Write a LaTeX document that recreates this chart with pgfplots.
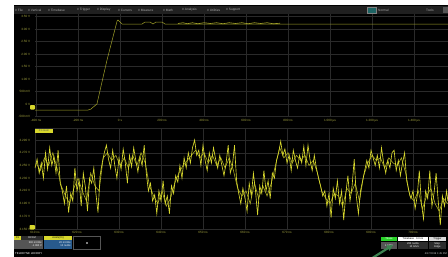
\documentclass[border=0pt]{standalone}
\usepackage{pgfplots}
\pgfplotsset{compat=1.18}
\usetikzlibrary{arrows.meta}
\usepackage{fontspec}
\setmainfont{Liberation Sans}
\definecolor{trace}{RGB}{215,215,45}
\definecolor{trace2}{RGB}{170,170,35}
\definecolor{tracedim}{RGB}{160,160,40}
\definecolor{gridc}{RGB}{42,42,42}
\definecolor{lbl}{RGB}{165,165,65}
\definecolor{menubg}{RGB}{32,32,32}
\definecolor{menutxt}{RGB}{170,170,170}
\definecolor{boxblue}{RGB}{40,90,140}
\definecolor{boxgray}{RGB}{85,85,85}
\definecolor{boxdark}{RGB}{45,45,45}
\definecolor{okgreen}{RGB}{40,210,40}
\definecolor{arrowgreen}{RGB}{60,130,80}
\definecolor{teal}{RGB}{30,100,100}

\pgfplotstableread{
t v
-405 -0.24
-152 -0.24
-140 -0.21
-133 -0.16
-110 0.00
-62 1.76
-14 3.32
-10 3.36
10 3.20
105 3.20
119 3.28
143 3.28
157 3.20
171 3.28
200 3.28
214 3.20
1562 3.20
}\toptrace

\pgfplotstableread{
t v
276 3.22
300 3.25
320 3.21
345 3.25
370 3.21
400 3.25
430 3.22
460 3.25
490 3.21
520 3.25
550 3.22
580 3.25
610 3.21
640 3.25
670 3.22
700 3.25
730 3.21
762 3.23
}\topdense

\pgfplotstableread{
t v
0 48
0.5 55
1 44
1.5 52
2 40
2.5 60
3 47
3.5 64
4 50
4.5 57
5 44
5.5 62
6 36
6.5 30
7 20
7.5 34
8 13
8.5 28
9 22
9.5 48
10 30
10.5 38
11 18
11.5 44
12 33
12.5 14
13 40
13.5 36
14 48
14.5 28
15 13
15.5 42
16 52
16.5 60
17 66
17.5 55
18 48
18.5 62
19 50
19.5 40
20 56
20.5 47
21 63
21.5 52
22 36
22.5 58
23 49
23.5 64
24 54
24.5 45
25 57
25.5 50
26 66
26.5 44
27 30
27.5 36
28 22
28.5 27
29 12
29.5 30
30 22
30.5 38
31 20
31.5 26
32 12
32.5 34
33 28
33.5 42
34 37
34.5 50
35 40
35.5 56
36 48
36.5 60
37 52
37.5 64
38 70
38.5 58
39 62
39.5 50
40 66
40.5 54
41 46
41.5 60
42 52
42.5 64
43 55
43.5 48
44 58
44.5 50
45 42
45.5 52
46 66
46.5 44
47 50
47.5 66
48 38
48.5 28
49 20
49.5 32
50 24
50.5 14
51 36
51.5 26
52 44
52.5 30
53 11
53.5 34
54 28
54.5 46
55 30
55.5 38
56 24
56.5 44
57 40
57.5 54
58 60
58.5 69
59 58
59.5 63
60 52
60.5 58
61 46
61.5 62
62 54
62.5 48
63 58
63.5 52
64 65
64.5 50
65 66
65.5 54
66 46
66.5 58
67 48
67.5 40
68 34
68.5 26
69 30
69.5 18
70 28
70.5 9
71 32
71.5 24
72 38
72.5 20
73 30
73.5 7
74 28
74.5 42
75 22
75.5 34
76 55
76.5 26
77 12
77.5 30
78 38
78.5 46
79 54
79.5 48
80 62
80.5 56
81 50
81.5 58
82 48
82.5 64
83 52
83.5 44
84 54
84.5 48
85 60
85.5 62
86 46
86.5 54
87 42
87.5 52
88 60
88.5 38
89 30
89.5 24
90 30
90.5 16
91 26
91.5 46
92 20
92.5 8
93 30
93.5 24
94 46
94.5 18
95 28
95.5 44
96 22
96.5 3
97 26
97.5 18
98 30
98.3 22
}\bottomtrace

\pgfplotstableread{
t v
0.25 52
1.25 46
2.25 56
3.25 50
4.25 60
5.25 48
6.25 34
7.25 26
8.25 20
9.25 32
10.25 40
11.25 30
12.25 22
13.25 44
14.25 34
15.25 30
16.25 56
17.25 60
18.25 54
19.25 58
20.25 50
21.25 56
22.25 48
23.25 58
24.25 50
25.25 60
26.25 52
27.25 34
28.25 26
29.25 20
30.25 30
31.25 18
32.25 24
33.25 36
34.25 44
35.25 50
36.25 54
37.25 58
38.25 62
39.25 56
40.25 60
41.25 52
42.25 58
43.25 50
44.25 56
45.25 48
46.25 56
47.25 46
48.25 32
49.25 26
50.25 30
51.25 20
52.25 36
53.25 24
54.25 34
55.25 26
56.25 36
57.25 50
58.25 64
59.25 56
60.25 60
61.25 52
62.25 58
63.25 54
64.25 58
65.25 50
66.25 54
67.25 44
68.25 30
69.25 24
70.25 20
71.25 28
72.25 26
73.25 18
74.25 32
75.25 28
76.25 36
77.25 22
78.25 42
79.25 52
80.25 58
81.25 54
82.25 56
83.25 48
84.25 56
85.25 52
86.25 50
87.25 56
88.25 44
89.25 26
90.25 22
91.25 30
92.25 16
93.25 26
94.25 32
95.25 20
96.25 14
97.25 24
98.25 20
}\bottompersist

\pgfplotsset{scope/.style={
  scale only axis, anchor=south west,
  axis line style={draw=none}, major tick length=0pt,
  grid=major, major grid style={gridc, line width=0.45pt},
  tick label style={font=\fontsize{3.1}{3.4}\selectfont, text=lbl},
  yticklabel style={anchor=east, xshift=-1.2pt},
  xticklabel style={yshift=1.2pt},
  clip=true}}

\begin{document}
\begin{tikzpicture}[x=1pt,y=1pt]
\path[use as bounding box] (0,0) rectangle (448,-257);
\fill[white] (0,0) rectangle (448,-257);
\fill[black] (14,-5) rectangle (448,-257);
% menu bar
\fill[menubg] (14,-6) rectangle (448,-14);
\begin{scope}[every node/.style={font=\fontsize{3.2}{3.4}\selectfont, text=menutxt, anchor=west, inner sep=0pt}]
\node at (15,-10) {\# File};
\node at (28,-10) {\# Vertical};
\node at (48,-10) {\# Timebase};
\node at (77,-10) {\# Trigger};
\node at (97,-10) {\# Display};
\node at (118,-10) {\# Cursors};
\node at (138,-10) {\# Measure};
\node at (163,-10) {\# Math};
\node at (182,-10) {\# Analysis};
\node at (207,-10) {\# Utilities};
\node at (226,-10) {\# Support};
\node at (378,-10) {Normal};
\node at (426,-10) {Tools};
\end{scope}
\filldraw[fill=teal, draw=gray] (367,-7) rectangle (376,-13);
\fill[boxgray] (443,-7) rectangle (448,-13);

% top panel
\begin{axis}[scope, at={(35pt,-117pt)}, width=413pt, height=103pt,
  xmin=-405, xmax=1562, ymin=-0.52, ymax=3.6,
  xtick={-400,-200,0,200,400,600,800,1000,1200,1400},
  xticklabels={-400 ns,-200 ns,0 s,200 ns,400 ns,600 ns,800 ns,1.000 µs,1.200 µs,1.400 µs},
  ytick={-0.5,0,0.5,1,1.5,2,2.5,3,3.5},
  yticklabels={-500 mV,0 V,500 mV,1.00 V,1.50 V,2.00 V,2.50 V,3.00 V,3.50 V}]
\addplot[tracedim, line width=0.5pt, mark=none] table[x=t,y=v] {\toptrace};
\addplot[tracedim, line width=0.65pt, mark=none] table[x=t,y=v] {\topdense};
\end{axis}
\fill[trace, rounded corners=0.8pt] (30,-105) rectangle (35,-109.5);

% bottom panel
\draw[gridc, line width=0.6pt] (35,-128) -- (448,-128);
\begin{axis}[scope, at={(35pt,-229pt)}, width=413pt, height=101pt,
  xmin=0, xmax=98.33, ymin=0, ymax=79.5,
  xtick={0,10,20,30,40,50,60,70,80,90},
  xticklabels={610 ns,620 ns,630 ns,640 ns,650 ns,660 ns,670 ns,680 ns,690 ns,700 ns},
  ytick={0,10,20,30,40,50,60,70},
  yticklabels={3.150 V,3.170 V,3.190 V,3.210 V,3.230 V,3.250 V,3.270 V,3.290 V}]
\addplot[trace2, line width=0.6pt, mark=none] table[x=t,y=v] {\bottompersist};
\addplot[trace, line width=0.65pt, mark=none] table[x=t,y=v] {\bottomtrace};
\end{axis}
\fill[trace] (35,-128.5) rectangle (53,-132.5);
\node[font=\fontsize{2.6}{2.8}\selectfont, text=black!70, inner sep=0pt] at (44,-130.5) {Z1 zoom};
\fill[trace, rounded corners=0.8pt] (29.5,-225) rectangle (35,-229.5);

% bottom left info boxes
\fill[trace] (14,-236) rectangle (21,-240);
\node[font=\fontsize{2.6}{2.8}\selectfont, inner sep=0pt] at (17.5,-238) {C1};
\fill[boxdark] (21,-236) rectangle (43,-240);
\node[font=\fontsize{2.6}{2.8}\selectfont, text=white, inner sep=0pt] at (32,-238) {DC1M};
\fill[trace] (44,-236) rectangle (72,-240);
\node[font=\fontsize{2.6}{2.8}\selectfont, inner sep=0pt] at (58,-238) {zoom(C1)};
\fill[boxgray] (14,-240) rectangle (43,-249);
\node[font=\fontsize{2.6}{2.9}\selectfont, text=white, inner sep=0pt, anchor=east, align=right] at (42,-244.5) {500 mV/div\\-1.090 V};
\fill[boxblue] (44,-240) rectangle (72,-249);
\node[font=\fontsize{2.6}{2.9}\selectfont, text=white, inner sep=0pt, anchor=east, align=right] at (71,-244.5) {20 mV/div\\10 ns/div};
\draw[boxgray, line width=0.5pt] (73,-236) rectangle (100,-249);
\fill[white] (87,-243) circle (0.8);
\node[font=\fontsize{2.8}{3}\selectfont, text=white, inner sep=0pt, anchor=west] at (15,-253.5) {TELEDYNE LECROY};

% bottom right info boxes
\fill[okgreen] (381,-237) rectangle (397,-241);
\node[font=\fontsize{2.6}{2.8}\selectfont, text=white, inner sep=0pt] at (389,-239) {Tbase};
\fill[white] (398,-237) rectangle (428,-241);
\node[font=\fontsize{2.6}{2.8}\selectfont, inner sep=0pt] at (413,-239) {Timebase \ \ 0.0 ns};
\fill[white!85!black] (429,-237) rectangle (446,-241);
\node[font=\fontsize{2.6}{2.8}\selectfont, inner sep=0pt] at (437.5,-239) {Trigger};
\fill[boxgray] (381,-242) rectangle (397,-249);
\node[font=\fontsize{2.6}{2.8}\selectfont, text=white, inner sep=0pt] at (389,-245.5) {1.0 MS};
\fill[boxdark] (398,-242) rectangle (428,-249);
\node[font=\fontsize{2.6}{2.9}\selectfont, text=white, inner sep=0pt, align=right] at (413,-245.5) {200 ns/div\\10 GS/s};
\fill[boxdark] (429,-242) rectangle (446,-249);
\node[font=\fontsize{2.6}{2.9}\selectfont, text=white, inner sep=0pt, align=left] at (437.5,-245.5) {Stop\\Edge};
\node[font=\fontsize{2.6}{2.8}\selectfont, text=white!80!black, inner sep=0pt, anchor=east] at (447,-254) {4/17/2019 1:45 PM};
% annotation arrow
\draw[arrowgreen, line width=2.2pt, -{Triangle[width=6pt,length=6pt]}] (366,-262) -- (393,-245);
\end{tikzpicture}
\end{document}
